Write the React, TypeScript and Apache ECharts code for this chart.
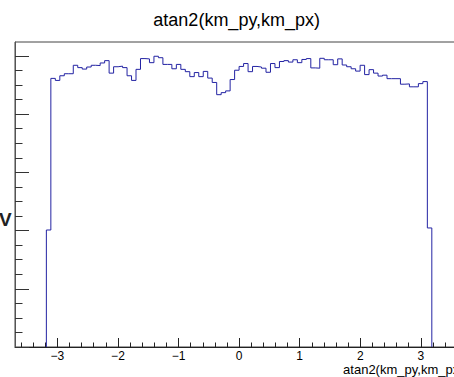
import React, { useEffect, useRef } from "react";
import * as echarts from "echarts";

const chartTitle = "atan2(km_py,km_px)";
const xAxisTitle = "atan2(km_py,km_px)";
const yAxisFragment = "V";

// histogram binning: 100 bins on [-3.7, 3.7]; non-empty bins start at index 7
const binLow = -3.7;
const binWidth = 0.074;
const firstBin = 7;
const counts = [
  402,
  923, 916, 932, 939, 939, 968, 960, 955, 962, 968,
  967, 976, 984, 941, 963, 965, 960, 932, 916, 954,
  991, 990, 977, 999, 994, 971, 971, 956, 971, 954,
  946, 929, 943, 929, 947, 924, 909, 867, 874, 880,
  919, 951, 964, 974, 946, 964, 962, 958, 944, 974,
  960, 981, 984, 979, 987, 977, 988, 991, 959, 958,
  992, 987, 987, 970, 990, 969, 963, 956, 948, 968,
  936, 953, 941, 931, 934, 922, 922, 922, 903, 904,
  894, 894, 905, 912,
  409,
];

const xMin = -3.7;
const xMax = 3.7;
const yMin = 0;
const yMax = 1048;
const xMajorTicks = [-3, -2, -1, 0, 1, 2, 3];
const xMinorTicks = [
  -3.6, -3.4, -3.2, -2.8, -2.6, -2.4, -2.2, -1.8, -1.6, -1.4, -1.2,
  -0.8, -0.6, -0.4, -0.2, 0.2, 0.4, 0.6, 0.8, 1.2, 1.4, 1.6, 1.8,
  2.2, 2.4, 2.6, 2.8, 3.2, 3.4, 3.6,
];
const yMajorTicks = [0, 200, 400, 600, 800, 1000];
const yMinorTicks = [
  50, 100, 150, 250, 300, 350, 450, 500, 550, 650, 700, 750, 850, 900, 950,
];

const FONT = "'Liberation Sans', Arial, Helvetica, sans-serif";

function edge(k: number) {
  return binLow + k * binWidth;
}

export default function App() {
  const ref = useRef<HTMLDivElement>(null);

  useEffect(() => {
    if (!ref.current) return;
    const chart = echarts.init(ref.current, undefined, { renderer: "svg" });

    const pts: number[][] = [[edge(firstBin), 0]];
    counts.forEach((c, i) => pts.push([edge(firstBin + i), c]));
    pts.push([edge(firstBin + counts.length), 0]);

    const fmt = (v: number) => (v < 0 ? "\u2212" + Math.abs(v) : String(v));

    chart.setOption({
      animation: false,
      backgroundColor: "#ffffff",
      grid: {
        left: 15,
        top: 42,
        right: 6.8,
        bottom: 30,
        show: true,
        borderColor: "#444",
        borderWidth: 1,
        backgroundColor: "transparent",
      },
      xAxis: [
        {
          type: "value",
          min: xMin,
          max: xMax,
          position: "bottom",
          splitLine: { show: false },
          axisLine: { show: true, onZero: false, lineStyle: { color: "#222", width: 1 } },
          axisTick: {
            show: true,
            inside: true,
            length: 9,
            customValues: xMajorTicks,
            lineStyle: { color: "#222", width: 1 },
          },
          axisLabel: {
            show: true,
            customValues: xMajorTicks,
            formatter: fmt,
            fontSize: 12,
            lineHeight: 12,
            color: "#000",
            fontFamily: FONT,
            margin: 3,
          },
        },
        {
          type: "value",
          min: xMin,
          max: xMax,
          position: "bottom",
          splitLine: { show: false },
          axisLine: { show: false, onZero: false },
          axisLabel: { show: false },
          axisTick: {
            show: true,
            inside: true,
            length: 4.5,
            customValues: xMinorTicks,
            lineStyle: { color: "#222", width: 1 },
          },
        },
      ],
      yAxis: [
        {
          type: "value",
          min: yMin,
          max: yMax,
          position: "left",
          splitLine: { show: false },
          axisLine: { show: true, onZero: false, lineStyle: { color: "#555", width: 1 } },
          axisTick: {
            show: true,
            inside: true,
            length: 14,
            customValues: yMajorTicks,
            lineStyle: { color: "#333", width: 1 },
          },
          axisLabel: { show: false },
        },
        {
          type: "value",
          min: yMin,
          max: yMax,
          position: "left",
          splitLine: { show: false },
          axisLine: { show: false, onZero: false },
          axisLabel: { show: false },
          axisTick: {
            show: true,
            inside: true,
            length: 7.5,
            customValues: yMinorTicks,
            lineStyle: { color: "#333", width: 1 },
          },
        },
      ],
      graphic: [
        {
          type: "text",
          x: 236.7,
          y: 20,
          style: {
            text: chartTitle,
            font: `18px ${FONT}`,
            fill: "#000",
            textAlign: "center",
            textVerticalAlign: "middle",
          },
        },
        {
          type: "text",
          x: 463.5,
          y: 369.5,
          style: {
            text: xAxisTitle,
            font: `13px ${FONT}`,
            lineHeight: 13,
            fill: "#000",
            textAlign: "right",
            textVerticalAlign: "middle",
          },
        },
        {
          type: "text",
          x: -1,
          y: 219,
          style: {
            text: yAxisFragment,
            font: `bold 19px ${FONT}`,
            fill: "#222",
            textAlign: "left",
            textVerticalAlign: "middle",
          },
        },
      ],
      series: [
        {
          type: "line",
          xAxisIndex: 0,
          yAxisIndex: 0,
          step: "end",
          data: pts,
          showSymbol: false,
          symbol: "none",
          lineStyle: { color: "#2323a3", width: 1 },
          z: 3,
        },
      ],
    });

    return () => {
      chart.dispose();
    };
  }, []);

  return (
    <div
      style={{
        position: "fixed",
        left: 0,
        top: 0,
        width: 454,
        height: 377,
        overflow: "hidden",
        background: "#fff",
      }}
    >
      <div ref={ref} style={{ width: 470, height: 377 }} />
    </div>
  );
}
